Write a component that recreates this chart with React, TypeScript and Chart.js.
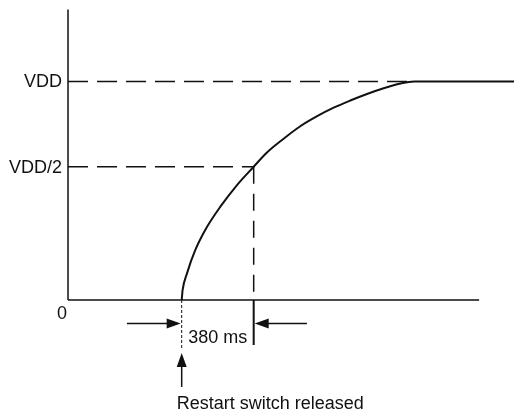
import React, { useEffect, useRef } from 'react';
import { Chart, registerables } from 'chart.js';

Chart.register(...registerables);

// x: time in ms from origin, y: supply level as a fraction of VDD (schematic scale)
const curveTimes = [600, 605, 628, 672, 734, 804, 892, 980, 1050, 1138, 1226, 1315, 1402, 1490, 1578, 1666, 1737, 1790, 1830, 2360];
const curveLevels = [0, 0.046, 0.122, 0.229, 0.335, 0.427, 0.526, 0.61, 0.675, 0.738, 0.795, 0.841, 0.88, 0.913, 0.943, 0.969, 0.987, 0.997, 1, 1];

const levelValues = [1, 0.61];
const levelLabels = ['VDD', 'VDD/2'];
const levelEndTimes = [1790, 980];

const originLabel = '0';
const restartTime = 600;
const halfTime = 980;
const intervalLabel = '380 ms';
const eventLabel = 'Restart switch released';

const xAxisEnd = 2170;
const yAxisTop = 1.33;

// annotation levels below the time axis (same data units as y)
const tickBottoms = [-0.22, -0.206];
const arrowLevel = -0.1075;
const arrowTails = [311, 1261];
const eventArrowTail = -0.398;
const eventArrowTip = -0.243;
const intervalTextLevel = -0.197;
const eventTextLevel = -0.499;
const originTextPos = [-32, -0.087];

const xRange = [-359, 2354];
const yRange = [-0.5126, 1.373];

const FONT = '18px "Liberation Sans", Arial, Helvetica, sans-serif';
const INK = '#111';

function pts(xs: number[], ys: number[]) {
  return xs.map((x, i) => ({ x, y: ys[i] }));
}

const annotationPlugin = {
  id: 'annotations',
  afterDatasetsDraw(chart: any) {
    const ctx = chart.ctx as CanvasRenderingContext2D;
    const xs = chart.scales.x;
    const ys = chart.scales.y;
    const px = (v: number) => xs.getPixelForValue(v);
    const py = (v: number) => ys.getPixelForValue(v);
    ctx.save();
    ctx.fillStyle = INK;
    ctx.strokeStyle = INK;
    ctx.lineWidth = 1.5;

    const arrow = (x1: number, y1: number, x2: number, y2: number) => {
      const ang = Math.atan2(y2 - y1, x2 - x1);
      const len = 14;
      const hw = 5;
      ctx.beginPath();
      ctx.moveTo(x1, y1);
      ctx.lineTo(x2 - Math.cos(ang) * len * 0.8, y2 - Math.sin(ang) * len * 0.8);
      ctx.stroke();
      ctx.beginPath();
      ctx.moveTo(x2, y2);
      ctx.lineTo(x2 - Math.cos(ang) * len - Math.sin(ang) * hw, y2 - Math.sin(ang) * len + Math.cos(ang) * hw);
      ctx.lineTo(x2 - Math.cos(ang) * len + Math.sin(ang) * hw, y2 - Math.sin(ang) * len - Math.cos(ang) * hw);
      ctx.closePath();
      ctx.fill();
    };

    // interval arrows
    arrow(px(arrowTails[0]), py(arrowLevel), px(restartTime) - 1, py(arrowLevel));
    arrow(px(arrowTails[1]), py(arrowLevel), px(halfTime) + 1, py(arrowLevel));
    // event arrow
    arrow(px(restartTime), py(eventArrowTail), px(restartTime), py(eventArrowTip));

    ctx.font = FONT;
    ctx.textBaseline = 'middle';
    ctx.textAlign = 'right';
    levelValues.forEach((v, i) => {
      ctx.fillText(levelLabels[i], px(0) - 6, py(v) + 1);
    });
    ctx.textBaseline = 'alphabetic';
    ctx.textAlign = 'center';
    ctx.fillText(originLabel, px(originTextPos[0]), py(originTextPos[1]));
    ctx.fillText(intervalLabel, px((restartTime + halfTime) / 2), py(intervalTextLevel));
    ctx.textAlign = 'left';
    ctx.fillText(eventLabel, px(restartTime) - 5, py(eventTextLevel));
    ctx.restore();
  },
};

export default function App() {
  const ref = useRef<HTMLCanvasElement | null>(null);
  useEffect(() => {
    document.body.style.margin = '0';
    const canvas = ref.current;
    if (!canvas) return;
    const line = (data: any[], extra: any = {}) => ({
      data,
      borderColor: INK,
      borderWidth: 1.5,
      pointRadius: 0,
      fill: false,
      tension: 0,
      ...extra,
    });
    const dash = [20, 9];
    const chart = new Chart(canvas, {
      type: 'line',
      data: {
        datasets: [
          line([{ x: 0, y: 0 }, { x: 0, y: yAxisTop }]),
          line([{ x: 0, y: 0 }, { x: xAxisEnd, y: 0 }]),
          line([{ x: 0, y: levelValues[0] }, { x: levelEndTimes[0], y: levelValues[0] }], { borderDash: dash }),
          line([{ x: 0, y: levelValues[1] }, { x: levelEndTimes[1], y: levelValues[1] }], { borderDash: dash }),
          line([{ x: halfTime, y: levelValues[1] }, { x: halfTime, y: 0 }], { borderDash: [17, 10] }),
          line([{ x: halfTime, y: 0 }, { x: halfTime, y: tickBottoms[1] }], { borderWidth: 2 }),
          line([{ x: restartTime, y: 0 }, { x: restartTime, y: tickBottoms[0] }], { borderWidth: 1, borderDash: [3, 2] }),
          line(pts(curveTimes, curveLevels), { borderWidth: 2, cubicInterpolationMode: 'monotone' }),
        ],
      },
      options: {
        animation: false,
        responsive: false,
        maintainAspectRatio: false,
        layout: { padding: 0 },
        plugins: { legend: { display: false }, tooltip: { enabled: false } },
        scales: {
          x: { type: 'linear', display: false, min: xRange[0], max: xRange[1] },
          y: { type: 'linear', display: false, min: yRange[0], max: yRange[1] },
        },
      },
      plugins: [annotationPlugin],
    } as any);
    return () => chart.destroy();
  }, []);
  return (
    <div style={{ width: 514, height: 412, background: '#fff' }}>
      <canvas ref={ref} width={514} height={412} style={{ display: 'block' }} />
    </div>
  );
}
